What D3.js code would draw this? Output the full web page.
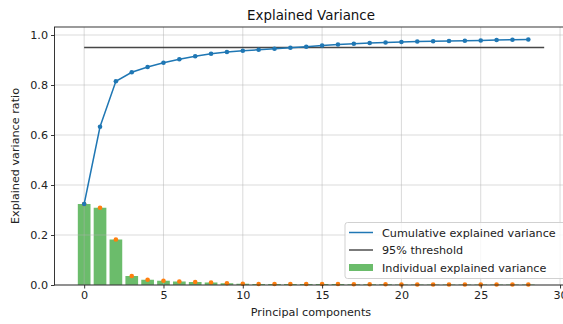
<!DOCTYPE html>
<html><head><meta charset="utf-8">
<script src="https://cdn.jsdelivr.net/npm/d3@7"></script>
<style>body{margin:0;background:#fff;overflow:hidden}svg{display:block;font-family:"DejaVu Sans",sans-serif}</style>
</head><body>
<script>
const components = d3.range(0, 29);
const individual = [0.324, 0.309, 0.182, 0.036, 0.021, 0.017, 0.014, 0.012, 0.010, 0.007, 0.005, 0.004, 0.004, 0.004, 0.004, 0.004, 0.004, 0.003, 0.003, 0.003, 0.002, 0.002, 0.002, 0.002, 0.002, 0.002, 0.002, 0.002, 0.002];
const cumulative = [0.324, 0.633, 0.815, 0.851, 0.872, 0.889, 0.903, 0.915, 0.925, 0.932, 0.937, 0.941, 0.945, 0.949, 0.953, 0.958, 0.962, 0.965, 0.968, 0.970, 0.972, 0.974, 0.975, 0.976, 0.977, 0.978, 0.980, 0.981, 0.982];
const threshold = 0.95;
const xTicks = [0, 5, 10, 15, 20, 25, 30];
const yTicks = [0.0, 0.2, 0.4, 0.6, 0.8, 1.0];
const title = "Explained Variance";
const xLabel = "Principal components";
const yLabel = "Explained variance ratio";
const legendLabels = ["Cumulative explained variance", "95% threshold", "Individual explained variance"];

const W = 563, H = 324;
const L = 54.5, R = 567.5, T = 27, B = 285;
const FS = 11.2;
const svg = d3.select("body").append("svg").attr("width", W).attr("height", H);
const x = d3.scaleLinear().domain([-1.87, 30.47]).range([L, R]);
const y = d3.scaleLinear().domain([0, 1.032]).range([B, T]);

// bars
svg.append("g").selectAll("rect").data(components).join("rect")
  .attr("x", d => x(d - 0.4)).attr("width", x(0.8) - x(0))
  .attr("y", d => y(individual[d])).attr("height", d => B - y(individual[d]))
  .attr("fill", "#2ca02c").attr("fill-opacity", 0.7);

// grid
const g = svg.append("g").attr("stroke", "#b0b0b0").attr("stroke-opacity", 0.6).attr("stroke-width", 0.8);
xTicks.forEach(t => g.append("line").attr("x1", x(t)).attr("x2", x(t)).attr("y1", T).attr("y2", B));
yTicks.forEach(t => g.append("line").attr("x1", L).attr("x2", R).attr("y1", y(t)).attr("y2", y(t)));

// orange dots on bars
svg.append("g").selectAll("circle").data(components).join("circle")
  .attr("cx", d => x(d)).attr("cy", d => y(individual[d])).attr("r", 2.3).attr("fill", "#ff7f0e");

// threshold
svg.append("line").attr("x1", x(0)).attr("x2", x(29)).attr("y1", y(threshold)).attr("y2", y(threshold))
  .attr("stroke", "#333").attr("stroke-opacity", 0.9).attr("stroke-width", 1.3);

// cumulative line
svg.append("path").datum(components)
  .attr("d", d3.line().x(d => x(d)).y(d => y(cumulative[d])))
  .attr("fill", "none").attr("stroke", "#1f77b4").attr("stroke-width", 1.5);
svg.append("g").selectAll("circle").data(components).join("circle")
  .attr("cx", d => x(d)).attr("cy", d => y(cumulative[d])).attr("r", 2.3).attr("fill", "#1f77b4");

// spines
svg.append("rect").attr("x", L).attr("y", T).attr("width", R - L).attr("height", B - T)
  .attr("fill", "none").attr("stroke", "#222").attr("stroke-width", 0.9);

// axes
const xAxis = svg.append("g").attr("transform", `translate(0,${B})`)
  .call(d3.axisBottom(x).tickValues(xTicks).tickFormat(d3.format("d")).tickSize(3.5).tickPadding(3));
const yAxis = svg.append("g").attr("transform", `translate(${L},0)`)
  .call(d3.axisLeft(y).tickValues(yTicks).tickFormat(d3.format(".1f")).tickSize(3.5).tickPadding(3));
[xAxis, yAxis].forEach(a => {
  a.select(".domain").remove();
  a.selectAll("line").attr("stroke", "#222").attr("stroke-width", 0.9);
  a.selectAll("text").attr("font-family", "DejaVu Sans").attr("font-size", FS).attr("fill", "#222");
});

svg.append("text").attr("x", (L + R) / 2).attr("y", 19.5).attr("text-anchor", "middle")
  .attr("font-size", 13.4).attr("fill", "#111").text(title);
svg.append("text").attr("x", (L + R) / 2).attr("y", 316).attr("text-anchor", "middle")
  .attr("font-size", FS).attr("fill", "#222").text(xLabel);
svg.append("text").attr("transform", `translate(19,${(T + B) / 2}) rotate(-90)`).attr("text-anchor", "middle")
  .attr("font-size", FS).attr("fill", "#222").text(yLabel);

// legend
const lg = svg.append("g").attr("transform", "translate(345,222.5)");
lg.append("rect").attr("width", 226).attr("height", 56).attr("rx", 2.5)
  .attr("fill", "#fff").attr("fill-opacity", 0.8).attr("stroke", "#ccc").attr("stroke-width", 0.9);
const rows = [10, 27.5, 45];
lg.append("line").attr("x1", 4).attr("x2", 28).attr("y1", rows[0]).attr("y2", rows[0]).attr("stroke", "#1f77b4").attr("stroke-width", 1.5);
lg.append("line").attr("x1", 4).attr("x2", 28).attr("y1", rows[1]).attr("y2", rows[1]).attr("stroke", "#333").attr("stroke-width", 1.3);
lg.append("rect").attr("x", 4).attr("y", rows[2] - 3.5).attr("width", 24).attr("height", 7).attr("fill", "#2ca02c").attr("fill-opacity", 0.7);
legendLabels.forEach((t, i) => lg.append("text").attr("x", 37).attr("y", rows[i] + 4)
  .attr("font-size", FS).attr("fill", "#222").text(t));
</script>
</body></html>
